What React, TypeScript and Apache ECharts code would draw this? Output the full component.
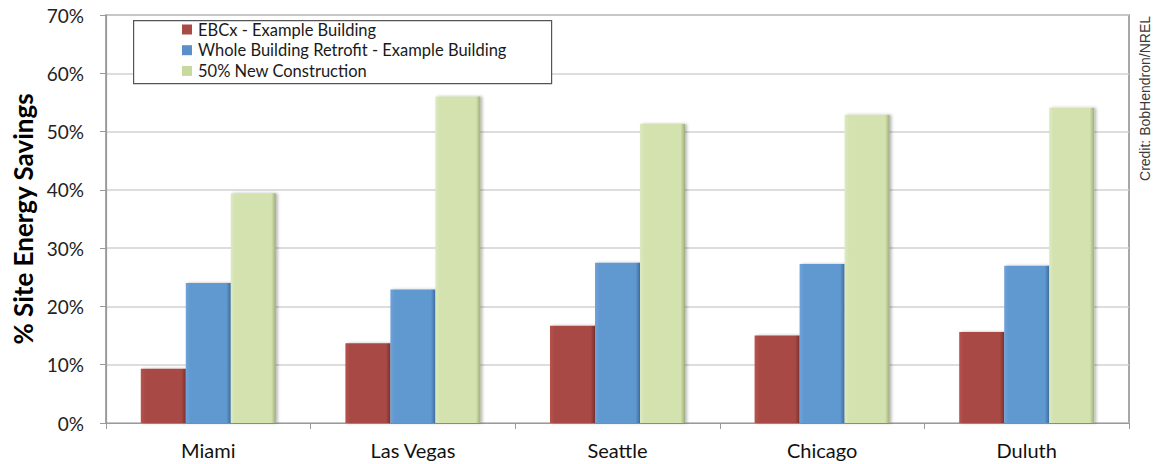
import React, { useEffect, useRef } from "react";
import * as echarts from "echarts";

// Cities compared
const cities = ["Miami", "Las Vegas", "Seattle", "Chicago", "Duluth"];

// Site energy savings, percent
const ebcxSavings = [9.3, 13.7, 16.7, 15.0, 15.6];
const retrofitSavings = [24.0, 22.9, 27.5, 27.3, 27.0];
const newConstructionSavings = [39.4, 56.0, 51.3, 52.9, 54.1];

const seriesNames = [
  "EBCx - Example Building",
  "Whole Building Retrofit - Example Building",
  "50% New Construction",
];

const yTicks = [0, 10, 20, 30, 40, 50, 60, 70];

const FONT = "Lato, 'Open Sans', sans-serif";

// Horizontal shading that gives each bar a bevelled look
function bevel(light: string, base: string, dark: string) {
  return new echarts.graphic.LinearGradient(1, 0, 0, 0, [
    { offset: 0, color: dark },
    { offset: 0.1, color: base },
    { offset: 0.9, color: base },
    { offset: 1, color: light },
  ]);
}

const palette = [
  { light: "#b8524d", base: "#a84a45", dark: "#7a302d", icon: "#a84a45" },
  { light: "#6fa3d8", base: "#6198d0", dark: "#3e6d9f", icon: "#5b8fc9" },
  { light: "#dde9c1", base: "#d3e2ae", dark: "#9fae7c", icon: "#c7d99c" },
];

export default function App() {
  const ref = useRef<HTMLDivElement>(null);

  useEffect(() => {
    if (!ref.current) return;
    const chart = echarts.init(ref.current, undefined, { renderer: "svg" });

    const values = [ebcxSavings, retrofitSavings, newConstructionSavings];

    const series = values.map((data, i) => ({
      name: seriesNames[i],
      type: "bar",
      data,
      barWidth: 45,
      barGap: "0%",
      itemStyle: {
        color: bevel(palette[i].light, palette[i].base, palette[i].dark),
        shadowColor: "rgba(0,0,0,0.28)",
        shadowBlur: 3,
        shadowOffsetX: 2,
        shadowOffsetY: 0,
      },
    }));

    const legends = seriesNames.map((name, i) => ({
      data: [{ name, itemStyle: { color: palette[i].icon } }],
      left: 182,
      top: 21 + i * 20.7,
      icon: "rect",
      itemWidth: 10,
      itemHeight: 10,
      itemGap: 5,
      padding: 0,
      selectedMode: false,
      textStyle: { fontFamily: FONT, fontSize: 16.5, color: "#1a1a1a", padding: [0, 0, 0, 1] },
      z: 5,
    }));

    chart.setOption({
      animation: false,
      backgroundColor: "#ffffff",
      grid: {
        left: 106,
        right: 28,
        top: 15,
        bottom: 41,
        show: true,
        borderColor: "#8a8a8a",
        borderWidth: 1.5,
        backgroundColor: "transparent",
      },
      legend: legends,
      graphic: [
        {
          type: "rect",
          left: 133,
          top: 20,
          z: 3,
          shape: { width: 418, height: 63 },
          style: { fill: "#ffffff", stroke: "#555555", lineWidth: 1.2 },
        },
        {
          type: "text",
          left: 1138,
          top: 16,
          rotation: Math.PI / 2,
          style: {
            text: "Credit: BobHendron/NREL",
            fontFamily: "'Liberation Sans', Arial, sans-serif",
            fontSize: 14,
            fill: "#3a3a3a",
          },
        },
      ],
      xAxis: {
        type: "category",
        data: cities,
        axisLine: { show: true, lineStyle: { color: "#9a9a9a", width: 1.2 } },
        axisTick: { show: true, alignWithLabel: false, length: 6, lineStyle: { color: "#9a9a9a" } },
        axisLabel: { fontFamily: FONT, fontSize: 20, color: "#111", margin: 17 },
      },
      yAxis: {
        type: "value",
        min: yTicks[0],
        max: yTicks[yTicks.length - 1],
        interval: 10,
        name: "% Site Energy Savings",
        nameLocation: "middle",
        nameGap: 70,
        nameTextStyle: { fontFamily: FONT, fontSize: 26, fontWeight: "bold", color: "#000" },
        axisLine: { show: true, lineStyle: { color: "#9a9a9a", width: 1.2 } },
        axisTick: { show: true, length: 6, lineStyle: { color: "#9a9a9a" } },
        axisLabel: {
          fontFamily: FONT,
          fontSize: 19,
          color: "#222",
          margin: 22,
          formatter: (v: number) => `${v}%`,
        },
        splitLine: { show: true, lineStyle: { color: "#d2d2d2", width: 1.5 } },
      },
      series,
    });

    return () => chart.dispose();
  }, []);

  return <div ref={ref} style={{ width: 1157, height: 464, position: "absolute", left: 0, top: 0 }} />;
}
